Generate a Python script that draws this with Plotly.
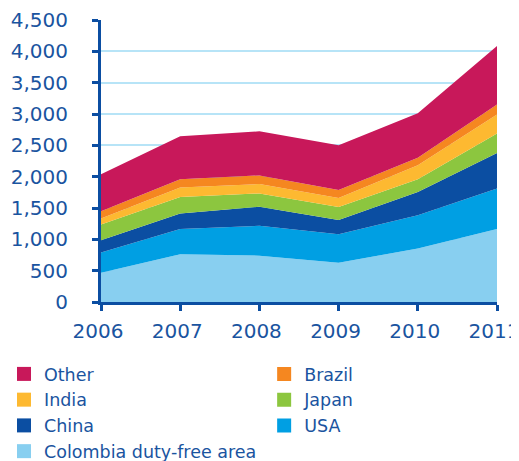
import plotly.graph_objects as go

years = [2006, 2007, 2008, 2009, 2010, 2011]

# values (bottom to top)
colombia = [465, 760, 740, 625, 855, 1165]
usa = [325, 405, 475, 455, 530, 645]
china = [197, 246, 304, 228, 372, 569]
japan = [250, 265, 213, 208, 203, 310]
india = [96, 150, 149, 144, 224, 303]
brazil = [117, 133, 139, 127, 116, 160]
other = [590, 687, 703, 714, 710, 932]

series = [
    ("Colombia duty-free area", colombia, "#88CFF0"),
    ("USA", usa, "#009FE3"),
    ("China", china, "#0B4EA2"),
    ("Japan", japan, "#8CC63F"),
    ("India", india, "#FDB931"),
    ("Brazil", brazil, "#F58720"),
    ("Other", other, "#C8185A"),
]
# two legend columns, read row by row in the reference
left_col = ["Other", "India", "China", "Colombia duty-free area"]
right_col = ["Brazil", "Japan", "USA"]

txt = "#1A54A0"
axis_col = "#0B4EA2"
fnt = "DejaVu Sans"

fig = go.Figure()
for name, vals, col in series:
    fig.add_trace(go.Scatter(x=years, y=vals, name=name, stackgroup="one",
                             mode="none", fillcolor=col, showlegend=False,
                             hoverinfo="x+y+name"))

# square swatches for the legend
colours = {n: c for n, v, c in series}
for names, lg in [(left_col, "legend"), (right_col, "legend2")]:
    for name in names:
        fig.add_trace(go.Scatter(x=[None], y=[None], name=name, mode="markers", legend=lg,
                                 marker=dict(symbol="square", size=14, color=colours[name])))

leg = dict(yanchor="top", y=-0.1916, xanchor="left", traceorder="normal",
           font=dict(family=fnt, size=17.5, color=txt), itemwidth=30,
           bgcolor="rgba(0,0,0,0)")

# page body has an 8px margin, so the figure is sized a bit smaller
fig.update_layout(
    width=511, height=453,
    margin=dict(l=93, r=22, t=12, b=159, autoexpand=False),
    paper_bgcolor="white", plot_bgcolor="white",
    font=dict(family=fnt, size=20, color=txt),
    legend=dict(leg, x=-0.245),
    legend2=dict(leg, x=0.412),
)
fig.update_xaxes(range=[2006, 2011], tickvals=years, showgrid=False,
                 showline=True, linecolor=axis_col, linewidth=3,
                 ticks="outside", ticklen=6, tickwidth=3, tickcolor=axis_col,
                 ticklabelstandoff=3, ticklabelshift=-3, ticklabeloverflow="allow",
                 tickfont=dict(family=fnt, size=20, color=txt), zeroline=False)
fig.update_yaxes(range=[0, 4500], dtick=500, tickformat=",d",
                 showgrid=True, gridcolor="#B7E4F7", gridwidth=2,
                 showline=True, linecolor=axis_col, linewidth=3,
                 ticks="outside", ticklen=6, tickwidth=3, tickcolor=axis_col,
                 ticklabelstandoff=20,
                 tickfont=dict(family=fnt, size=20, color=txt), zeroline=False)

fig.write_html("out.html")
